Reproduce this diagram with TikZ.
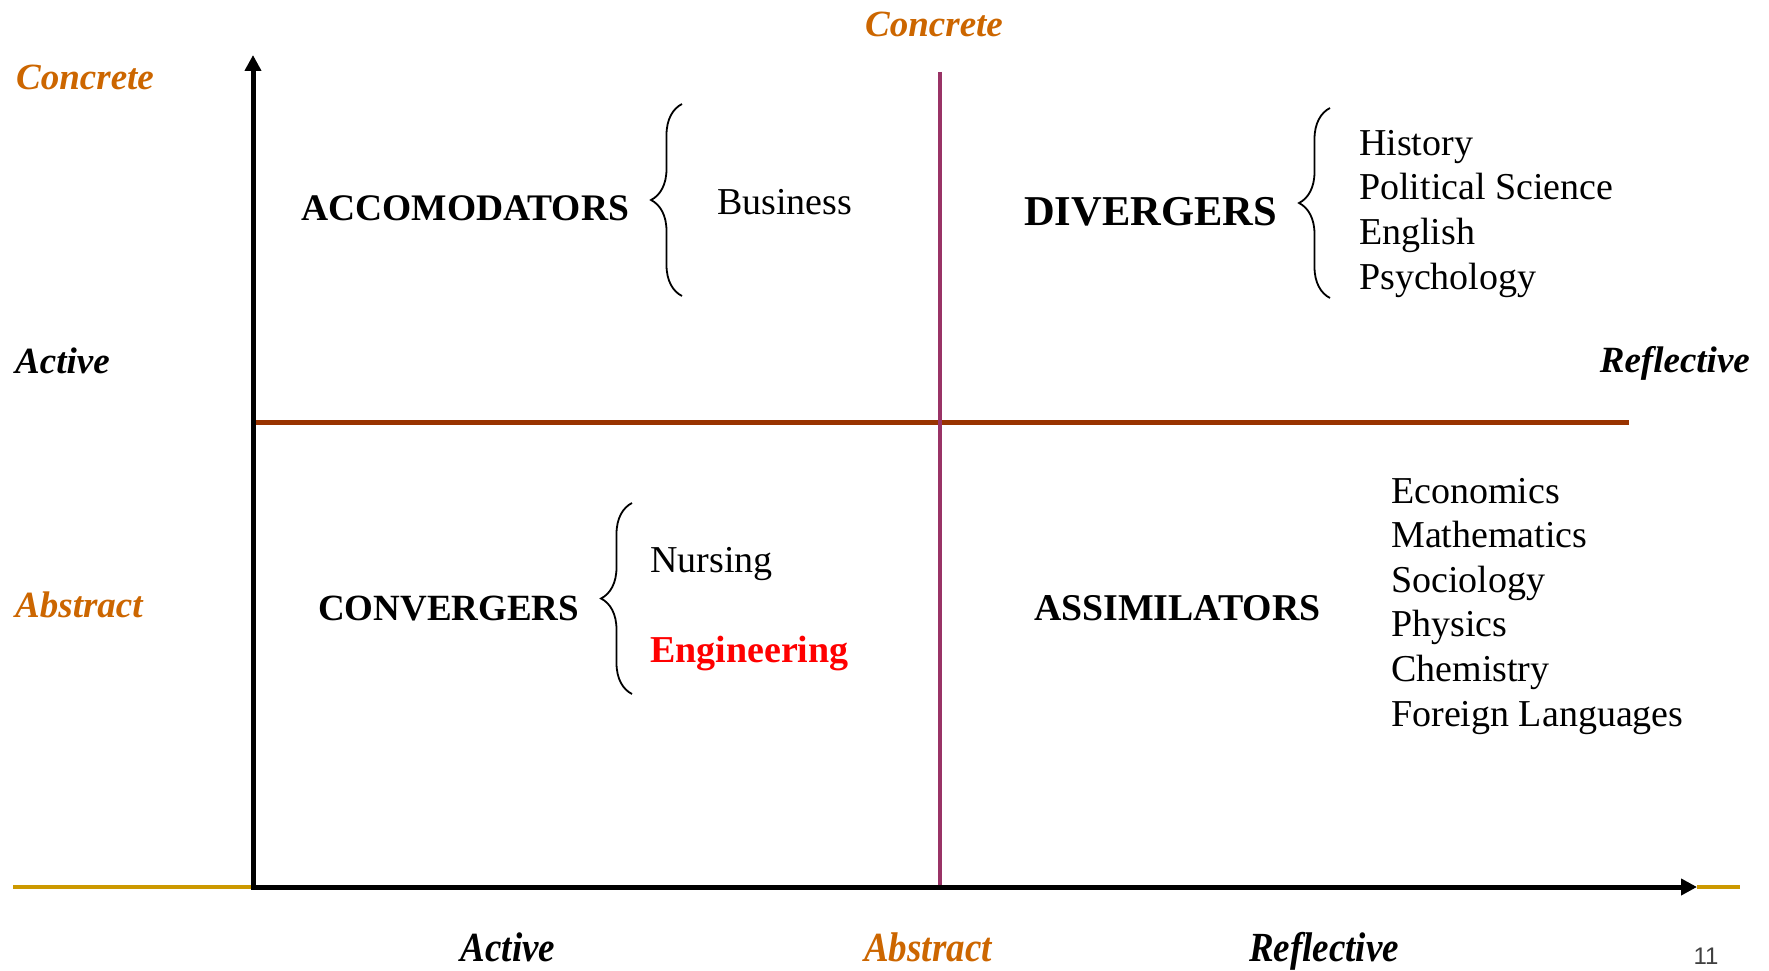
\documentclass[tikz,border=0pt]{standalone}
\usepackage{fontspec}
\setmainfont{Liberation Serif}
\newfontfamily\pagenumfont{Liberation Sans}
\usetikzlibrary{arrows.meta,decorations.pathreplacing}

\definecolor{poleorange}{RGB}{204,102,0}
\definecolor{axisgold}{RGB}{204,153,0}
\definecolor{splitbrown}{RGB}{153,51,0}
\definecolor{splitplum}{RGB}{153,51,102}

\begin{document}
\begin{tikzpicture}[x=1pt,y=-1pt]
        \useasboundingbox (0,0) rectangle (1769,971);
        % axes and the two dividing lines
        \coordinate (Origin) at (253,887);
        \coordinate (YTop) at (253,55);
        \coordinate (XEnd) at (1697,887);
        \coordinate (GoldL) at (13,887);
        \coordinate (GoldR) at (1740,887);
        \coordinate (MidTop) at (940,72);
        \coordinate (MidBot) at (940,887);
        \coordinate (MidL) at (253,422);
        \coordinate (MidR) at (1629,422);
        \begin{scope}[every path/.style={line width=4pt}]
            \path (GoldL) edge[draw=axisgold] (Origin);
            \path (XEnd) edge[draw=axisgold] (GoldR);
            \path (MidL) edge[draw=splitbrown, line width=5pt] (MidR);
            \path (MidTop) edge[draw=splitplum] (MidBot);
        \end{scope}
        \draw[line width=5pt, {Triangle[length=16pt,width=16pt]}-{Triangle[length=16pt,width=16pt]}]
            (YTop) -- (Origin) -- (XEnd);

        % pole labels round the edges
        \begin{scope}[every node/.style={inner sep=0, text=poleorange, font=\fontsize{37}{44}\bfseries\itshape}]
            \node[anchor=base west] (ConcreteL) at (16,90) {Concrete};
            \node[anchor=base west] (ConcreteT) at (865,37) {Concrete};
            \node[anchor=base west] (AbstractL) at (15,617) {Abstract};
            \node[anchor=base west, text=black] (ActiveL) at (15,373) {Active};
            \node[anchor=base east, text=black] (ReflectiveR) at (1750,372) {Reflective};
            \node[anchor=base, text=black] (ActiveB) at (508,961) {\scalebox{1}[1.12]{Active}};
            \node[anchor=base] (AbstractB) at (928,961) {\scalebox{1}[1.12]{Abstract}};
            \node[anchor=base, text=black] (ReflectiveB) at (1324,961) {\scalebox{1}[1.12]{Reflective}};
        \end{scope}

        % the four styles and their subjects (lists sit on their last line)
        \begin{scope}[every node/.style={inner sep=0, anchor=base west, align=left, font=\fontsize{38}{44.6}\selectfont}]
            \node[font=\fontsize{37.5}{44}\bfseries] (Accom) at (301,220) {ACCOMODATORS};
            \node (Business) at (717,214) {Business};
            \node[font=\fontsize{42.5}{48}\bfseries] (Diverg) at (1024,225) {DIVERGERS};
            \node (History) at (1359,289) {History\\Political Science\\English\\Psychology};
            \node[font=\fontsize{37}{44}\bfseries] (Converg) at (318,620) {CONVERGERS};
            \node (Nursing) at (650,572) {Nursing};
            \node[font=\fontsize{38}{44}\bfseries, text=red] (Engin) at (650,662) {Engineering};
            \node[font=\fontsize{37.8}{44}\bfseries] (Assim) at (1034,620) {ASSIMILATORS};
            \node (Economics) at (1391,726) {Economics\\Mathematics\\Sociology\\Physics\\Chemistry\\Foreign Languages};
        \end{scope}

        % braces
        \coordinate (BraceATop) at (682,104);
        \coordinate (BraceABot) at (682,296);
        \coordinate (BraceDTop) at (1330,108);
        \coordinate (BraceDBot) at (1330,298);
        \coordinate (BraceCTop) at (632,503);
        \coordinate (BraceCBot) at (632,694);
        \begin{scope}[every path/.style={line width=1.8pt, decorate, decoration={brace, amplitude=31pt}}]
            \path (BraceABot) edge (BraceATop);
            \path (BraceDBot) edge (BraceDTop);
            \path (BraceCBot) edge (BraceCTop);
        \end{scope}

        \node[anchor=base, inner sep=0, text=black!75, font=\fontsize{24}{28}\pagenumfont] (PageNum) at (1706,964) {11};
    \end{tikzpicture}
\end{document}
